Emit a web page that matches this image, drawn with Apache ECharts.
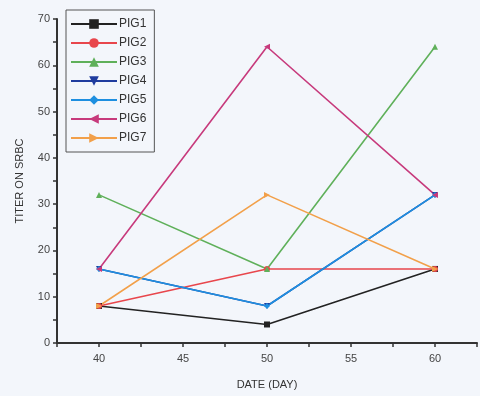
<!DOCTYPE html>
<html>
<head>
<meta charset="utf-8">
<title>Titer on SRBC</title>
<script src="https://cdn.jsdelivr.net/npm/echarts/dist/echarts.min.js"></script>
<style>
  body { margin: 0; background: #f3f6fb; }
  #main { width: 480px; height: 396px; }
</style>
</head>
<body>
<div id="main"></div>
<script>
  // days sampled and titer per pig
  var days = [40, 50, 60];
  var pig1 = [8, 4, 16];
  var pig2 = [8, 16, 16];
  var pig3 = [32, 16, 64];
  var pig4 = [16, 8, 32];
  var pig5 = [16, 8, 32];
  var pig6 = [16, 64, 32];
  var pig7 = [8, 32, 16];

  var names = ['PIG1', 'PIG2', 'PIG3', 'PIG4', 'PIG5', 'PIG6', 'PIG7'];
  var values = [pig1, pig2, pig3, pig4, pig5, pig6, pig7];
  var colors = ['#222222', '#e8464c', '#5fb05a', '#1f3c9e', '#1e8fe0', '#c73a7c', '#f2a04a'];
  var symbols = ['rect', 'circle', 'triangle', 'triangle', 'diamond', 'triangle', 'triangle'];
  var rotates = [0, 0, 0, 180, 0, 90, -90];

  var series = names.map(function (n, i) {
    return {
      name: n,
      type: 'line',
      data: days.map(function (d, j) { return [d, values[i][j]]; }),
      symbol: symbols[i],
      symbolRotate: rotates[i],
      symbolSize: 6,
      itemStyle: { color: colors[i] },
      lineStyle: { color: colors[i], width: 1.6 }
    };
  });

  var myChart = echarts.init(document.getElementById('main'));
  myChart.setOption({
    backgroundColor: '#f3f6fb',
    animation: false,
    textStyle: { fontFamily: 'Liberation Sans' },
    grid: { left: 57, right: 1, top: 19, bottom: 53 },
    legend: {
      orient: 'vertical',
      left: 66,
      top: 10,
      padding: [8, 8, 8, 4],
      itemGap: 7,
      itemWidth: 46,
      itemHeight: 12,
      borderColor: '#555',
      borderWidth: 1,
      backgroundColor: '#f3f6fb',
      textStyle: { fontSize: 12, color: '#333', padding: [0, 0, 0, -3] },
      data: names
    },
    xAxis: {
      type: 'value',
      name: 'DATE (DAY)',
      nameLocation: 'middle',
      nameGap: 36,
      nameTextStyle: { fontSize: 11, color: '#333' },
      min: 37.5,
      max: 62.5,
      interval: 2.5,
      splitLine: { show: false },
      axisLine: { lineStyle: { color: '#333', width: 2 } },
      axisTick: { show: true, length: 4, lineStyle: { color: '#333', width: 1.5 } },
      axisLabel: {
        fontSize: 11,
        color: '#444',
        margin: 10,
        formatter: function (v) { return v % 5 === 0 ? String(v) : ''; }
      }
    },
    yAxis: {
      type: 'value',
      name: 'TITER ON SRBC',
      nameLocation: 'middle',
      nameGap: 32,
      nameTextStyle: { fontSize: 11, color: '#333' },
      min: 0,
      max: 70,
      interval: 5,
      splitLine: { show: false },
      axisLine: { show: true, lineStyle: { color: '#333', width: 2 } },
      axisTick: { show: true, length: 4, lineStyle: { color: '#333', width: 1.5 } },
      axisLabel: {
        fontSize: 11,
        color: '#444',
        margin: 7,
        formatter: function (v) { return v % 10 === 0 ? String(v) : ''; }
      }
    },
    series: series
  });
</script>
</body>
</html>
